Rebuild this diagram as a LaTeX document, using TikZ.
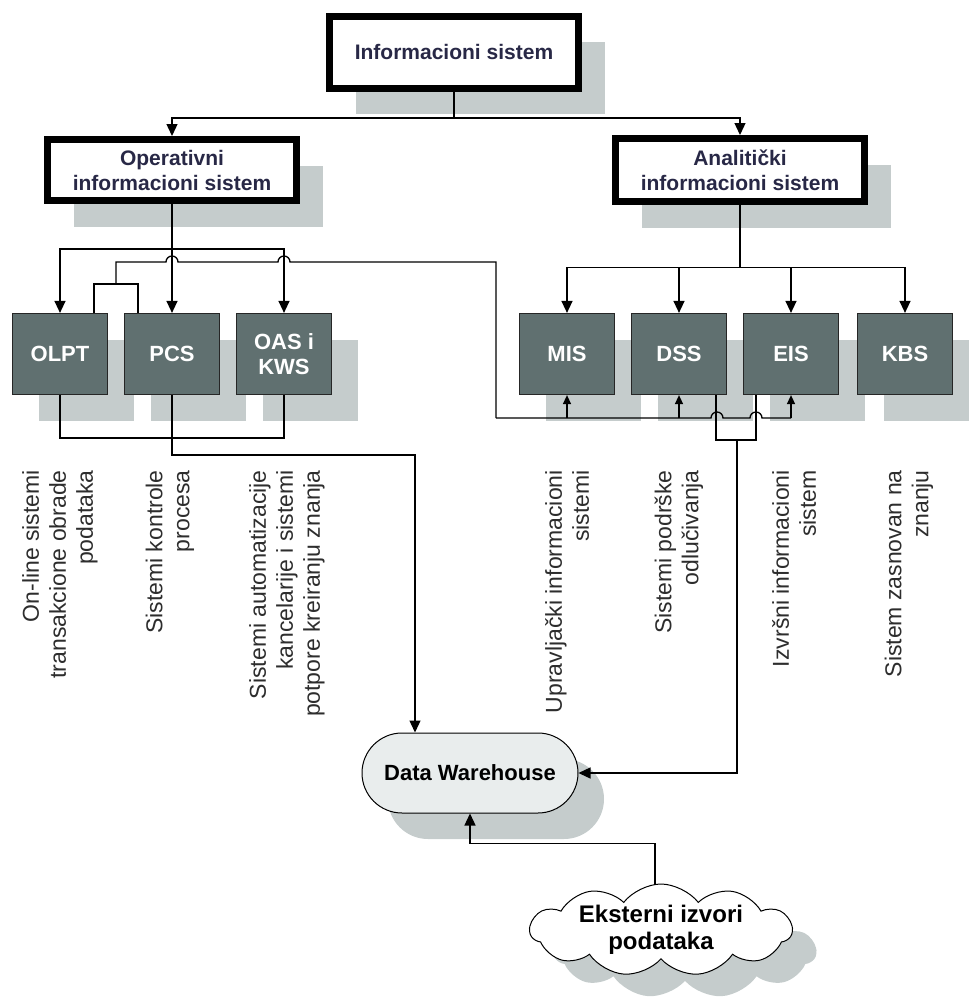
\documentclass[tikz,border=0pt]{standalone}
\usepackage{fontspec}
\setmainfont{Liberation Sans}
\usepackage{tikz}
\usetikzlibrary{arrows.meta}
\usetikzlibrary{shadows}
\usetikzlibrary{shapes.symbols}
\usepackage{xcolor}
\definecolor{BoxFill}{RGB}{96,112,112}
\definecolor{ShadowGray}{RGB}{197,204,204}
\definecolor{WareFill}{RGB}{233,237,237}
\definecolor{TitleInk}{RGB}{40,40,70}
\definecolor{LabelInk}{RGB}{45,45,45}
\tikzstyle{Shadowed}=[drop shadow={shadow xshift=26pt,shadow yshift=-26pt,fill=ShadowGray,opacity=1}]
\tikzstyle{MainBox}=[rectangle,draw=black,line width=7pt,fill=white,Shadowed,align=center,
text=TitleInk,font=\bfseries\fontsize{21}{25}\selectfont,minimum width=249pt]
\tikzstyle{SubBox}=[rectangle,draw=black!85,line width=1.2pt,fill=BoxFill,Shadowed,align=center,
text=white,font=\bfseries\fontsize{22}{25}\selectfont,minimum width=95pt,minimum height=81pt,inner sep=0pt]
\tikzstyle{WareBox}=[rectangle,rounded corners=40pt,draw=black,line width=1pt,fill=WareFill,Shadowed,
font=\bfseries\fontsize{22}{25}\selectfont,minimum width=216pt,minimum height=80pt]
\tikzstyle{CloudBox}=[cloud,cloud puffs=11,cloud puff arc=105,cloud ignores aspect,draw=black,line width=1pt,
fill=white,drop shadow={shadow xshift=24pt,shadow yshift=-22pt,fill=ShadowGray,opacity=1},
align=center,font=\bfseries\fontsize{24}{27}\selectfont,inner xsep=-60pt,inner ysep=-25pt,
minimum width=262pt,minimum height=92pt]
\tikzstyle{SideLabel}=[rotate=90,anchor=east,align=right,inner sep=0pt,text=LabelInk,
font=\fontsize{23}{27}\selectfont]
\tikzstyle{Link}=[black,line width=1.3pt]
\tikzstyle{LinkArrow}=[Link,-{Triangle[length=12pt,width=11pt]}]
\tikzstyle{LinkSmall}=[Link,-{Triangle[length=9pt,width=8pt]}]

\begin{document}
\begin{tikzpicture}[x=1pt,y=1pt]
    \useasboundingbox(0,0)rectangle(969,-1002);
        \node[MainBox,minimum height=72pt](top)at(454,-52){Informacioni sistem};
        \node[MainBox,minimum height=61pt](ops)at(172,-170){Operativni\\informacioni sistem};
        \node[MainBox,minimum height=63pt](ana)at(740,-170){Analitički\\informacioni sistem};
        \node[SubBox](olpt)at(60,-354){OLPT};
        \node[SubBox](pcs)at(172,-354){PCS};
        \node[SubBox](oas)at(284,-354){OAS i\\KWS};
        \node[SubBox](mis)at(567,-354){MIS};
        \node[SubBox](dss)at(679,-354){DSS};
        \node[SubBox](eis)at(791,-354){EIS};
        \node[SubBox](kbs)at(905,-354){KBS};
        \node[SideLabel](lolpt)at(60,-470){On-line sistemi\\transakcione obrade\\podataka};
        \node[SideLabel](lpcs)at(170,-470){Sistemi kontrole\\procesa};
        \node[SideLabel](loas)at(287,-470){Sistemi automatizacije\\kancelarije i sistemi\\potpore kreiranju znanja};
        \node[SideLabel](lmis)at(567,-470){Upravljački informacioni\\sistemi};
        \node[SideLabel](ldss)at(679,-470){Sistemi podrške\\odlučivanja};
        \node[SideLabel](leis)at(794,-470){Izvršni informacioni\\sistem};
        \node[SideLabel](lkbs)at(909,-470){Sistem zasnovan na\\znanju};
        \node[WareBox](dw)at(470,-773){Data Warehouse};
        \node[CloudBox](ext)at(661,-930){Eksterni izvori\\podataka};
        \draw[Link](top.south)--++(0,-26.5)coordinate(topJ);
        \draw[LinkArrow](topJ)-|(ops.north);
        \draw[LinkArrow](topJ)-|(ana.north);
        \draw[Link](ops.south)--++(0,-45)coordinate(opsJ);
        \draw[LinkArrow](opsJ)-|(olpt.north);
        \draw[LinkArrow](opsJ)--(pcs.north);
        \draw[LinkArrow](opsJ)-|(oas.north);
        \draw[Link](ana.south)--++(0,-62.5)coordinate(anaJ);
        \draw[LinkArrow](anaJ)-|(mis.north);
        \draw[LinkArrow](anaJ)-|(dss.north);
        \draw[LinkArrow](anaJ)-|(eis.north);
        \draw[LinkArrow](anaJ)-|(kbs.north);
        \draw[Link]([xshift=-14pt]olpt.north east)--++(0,29)-|([xshift=14pt]pcs.north west);
        \draw[Link](116,-284)--(116,-262)--(166,-262)arc(180:0:6)--(278,-262)arc(180:0:6)
            --(496,-262)--(496,-418)coordinate(busR);
        \draw[Link](busR)--(711,-418)arc(180:0:6)--(750,-418)arc(180:0:6)--(eis.south|-busR);
        \draw[LinkSmall](mis.south|-busR)--(mis.south);
        \draw[LinkSmall](dss.south|-busR)--(dss.south);
        \draw[LinkSmall](eis.south|-busR)--(eis.south);
        \draw[Link](olpt.south)--++(0,-43)-|(oas.south);
        \draw[LinkArrow](pcs.south)--++(0,-60)-|([xshift=-55pt]dw.north);
        \draw[Link]([xshift=-11pt]dss.south east)--++(0,-45)-|([xshift=13pt]eis.south west);
        \draw[LinkArrow](737,-440)|-(dw.east);
        \draw[LinkArrow]([xshift=-6pt]ext.north)--++(0,40)-|(dw.south);
    \end{tikzpicture}
\end{document}
